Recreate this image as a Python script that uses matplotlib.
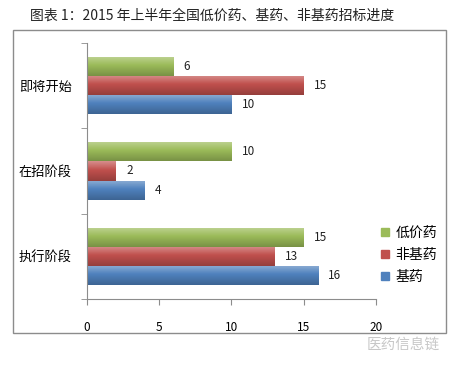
import matplotlib
matplotlib.use("Agg")
import matplotlib.pyplot as plt
from matplotlib.patches import Rectangle
from matplotlib.colors import to_rgb
import numpy as np

plt.rcParams['font.family'] = ['Noto Sans CJK SC', 'DejaVu Sans']

title = "图表 1：2015 年上半年全国低价药、基药、非基药招标进度"
categories = ["执行阶段", "在招阶段", "即将开始"]
series_names = ["低价药", "非基药", "基药"]
low_price = [15, 10, 6]
non_basic = [13, 2, 15]
basic = [16, 4, 10]
colors = ["#9BBB59", "#C0504D", "#4F81BD"]
xticks = [0, 5, 10, 15, 20]

fig = plt.figure(figsize=(4.51, 3.68), dpi=100)
fig.patches.append(Rectangle((13/451, 1-333/368), (446-13)/451, (333-30)/368,
                             transform=fig.transFigure, fill=False,
                             edgecolor="#8c8c8c", linewidth=1.0))
fig.text(30/451, 1-16/368, title, fontsize=10, ha="left", va="center", color="#222222")

ax = fig.add_axes([87/451, 1-299/368, (376-87)/451, (299-43)/368])
y = np.arange(len(categories))
h = 0.225
data = [low_price, non_basic, basic]
offsets = [h, 0, -h]


def gradient_img(c):
    base = np.array(to_rgb(c))
    t = np.linspace(0, 1, 32)[:, None]
    light = base + (1 - base) * 0.35
    dark = base * 0.78
    col = np.where(t < 0.45, light + (base - light) * (t / 0.45),
                   base + (dark - base) * ((t - 0.45) / 0.55))
    return col[:, None, :]


for vals, off, c, name in zip(data, offsets, colors, series_names):
    bars = ax.barh(y + off, vals, height=h, color=c, label=name, edgecolor="none")
    img = gradient_img(c)
    for b, v in zip(bars, vals):
        x0, y0 = b.get_x(), b.get_y()
        im = ax.imshow(img, extent=[x0, x0 + b.get_width(), y0, y0 + b.get_height()],
                       origin="upper", aspect="auto", interpolation="bilinear", zorder=2)
        im.set_clip_path(b)
        ax.text(v + 0.7, y0 + b.get_height()/2, str(v), va="center",
                ha="left", fontsize=8.5, color="#222222")

ax.set_xlim(0, 20)
ax.set_ylim(-0.5, 2.5)
ax.set_xticks(xticks)
ax.set_xticklabels([str(t) for t in xticks], fontsize=8.5)
ax.set_yticks(y)
ax.set_yticklabels(categories, fontsize=9.5)
ax.tick_params(axis="y", length=0, pad=11)
ax.set_yticks([-0.5, 0.5, 1.5, 2.5], minor=True)
ax.tick_params(axis="y", which="minor", length=4, color="#8c8c8c", direction="out")
ax.tick_params(axis="x", length=4, color="#8c8c8c", direction="out", pad=12)
for s in ["top", "right"]:
    ax.spines[s].set_visible(False)
for s in ["left", "bottom"]:
    ax.spines[s].set_color("#8c8c8c")

handles = [plt.Line2D([], [], marker="s", linestyle="none", color=c, markersize=6) for c in colors]
fig.legend(handles, series_names, loc="center left", bbox_to_anchor=(366/451, 1-255/368),
           frameon=False, fontsize=10, handletextpad=0.2, labelspacing=0.6, handlelength=1.0)

fig.text(440/451, 1-345/368, "医药信息链", fontsize=10.5, ha="right", va="center", color="#c8c8c8")

fig.savefig("out.png", dpi=100)
